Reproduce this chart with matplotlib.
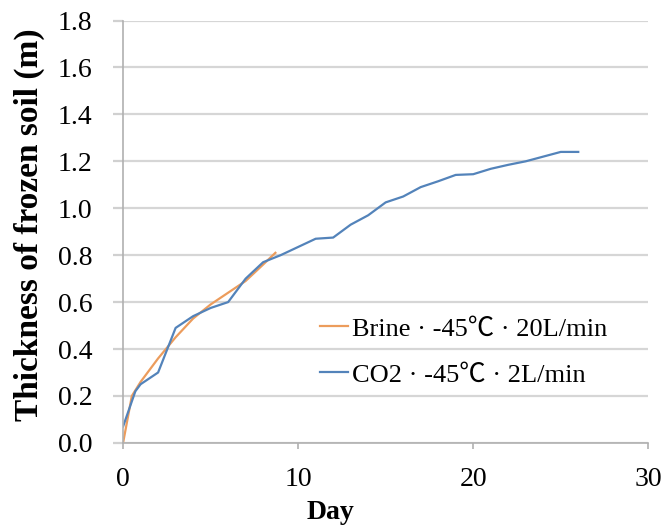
import matplotlib
matplotlib.use('Agg')
import matplotlib.pyplot as plt

# data
brine_day = [0, 0.5, 1, 2, 3, 4, 5, 6, 7, 8, 8.7]
brine_thk = [0.0, 0.20, 0.26, 0.36, 0.45, 0.53, 0.59, 0.64, 0.69, 0.76, 0.81]

co2_day = [0, 0.7, 1, 2, 3, 4, 5, 6, 7, 8, 9, 10, 11, 12, 13, 14, 15, 16, 17, 18,
           19, 20, 21, 22, 23, 24, 25, 26]
co2_thk = [0.07, 0.22, 0.25, 0.30, 0.49, 0.54, 0.575, 0.60, 0.70, 0.77, 0.80, 0.835,
           0.87, 0.875, 0.93, 0.97, 1.025, 1.05, 1.09, 1.115, 1.142, 1.145, 1.168,
           1.185, 1.20, 1.22, 1.24, 1.24]

series_labels = ['Brine · -45℃ · 20L/min', 'CO2 · -45℃ · 2L/min']
xticks = [0, 10, 20, 30]
yticks = [0.0, 0.2, 0.4, 0.6, 0.8, 1.0, 1.2, 1.4, 1.6, 1.8]

plt.rcParams['font.family'] = ['Liberation Serif', 'Noto Sans CJK SC']

fig = plt.figure(figsize=(6.69, 5.26), dpi=100)
ax = fig.add_axes([0.184, 0.158, 0.785, 0.803])

ax.plot(brine_day, brine_thk, color='#EC9C5C', lw=1.6, label=series_labels[0])
ax.plot(co2_day, co2_thk, color='#5383BA', lw=1.6, label=series_labels[1])

ax.set_xlim(0, 30)
ax.set_ylim(0, 1.8)
ax.set_xticks(xticks)
ax.set_yticks(yticks)
ax.set_yticklabels(['%.1f' % v for v in yticks])

ax.yaxis.grid(True, color='#D6D6D6', lw=1.6)
ax.set_axisbelow(True)
for s in ['top', 'right']:
    ax.spines[s].set_visible(False)
for s in ['left', 'bottom']:
    ax.spines[s].set_color('#B0B0B0')
    ax.spines[s].set_linewidth(1.2)
ax.tick_params(axis='y', length=7, color='#D0D0D0', width=1.6, labelsize=20, pad=15)
ax.tick_params(axis='x', length=4, color='#B0B0B0', width=1.2, labelsize=20, pad=13)

ax.set_xlabel('Day', fontsize=20, fontweight='bold')
ax.xaxis.set_label_coords(0.394, -0.135)
ax.set_ylabel('Thickness of frozen soil (m)', fontsize=24, fontweight='bold')
ax.yaxis.set_label_coords(-0.148, 0.516)

ax.legend(loc='center left', bbox_to_anchor=(0.375, 0.216), frameon=False, fontsize=19,
          handlelength=1.06, handletextpad=0.15, labelspacing=0.85,
          borderpad=0, borderaxespad=0)

plt.savefig('out.png', dpi=100)
plt.close()
